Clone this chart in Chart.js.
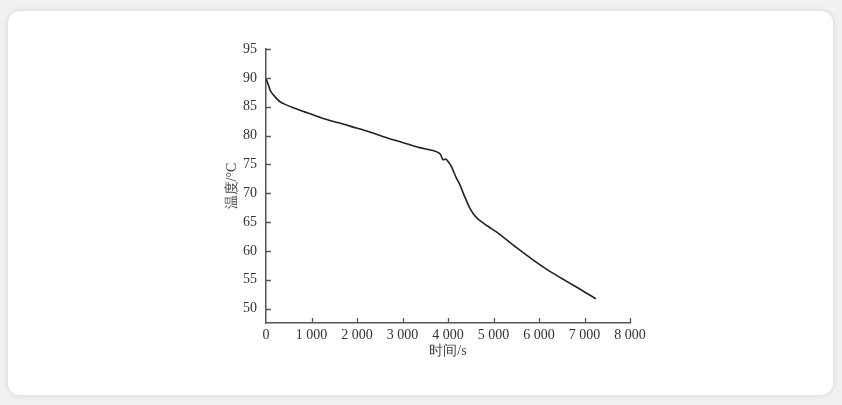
<!DOCTYPE html>
<html>
<head>
<meta charset="utf-8">
<script src="https://cdn.jsdelivr.net/npm/chart.js@4.4.0/dist/chart.umd.min.js"></script>
<style>
  html, body { margin: 0; padding: 0; background: #f1f1f1; width: 842px; height: 405px; overflow: hidden; }
  #card { position: absolute; left: 8px; top: 11px; width: 825px; height: 384px; background: #fff; border-radius: 12px; box-shadow: 0 0 6px rgba(0,0,0,0.12); overflow: hidden; }
  #c { display: block; }
</style>
</head>
<body>
<div id="card"><canvas id="c" width="825" height="384"></canvas></div>
<script>
// Data
const timeS = [0, 50, 100, 200, 300, 420, 600, 850, 1100, 1370, 1600, 1900, 2280, 2650, 3000, 3380, 3670, 3816, 3860, 3890, 3960, 4000, 4070, 4180, 4260, 4330, 4400, 4480, 4560, 4650, 4800, 4910, 5130, 5500, 5860, 6230, 6590, 6960, 7250];
const tempC = [89.9, 88.8, 87.7, 86.7, 85.9, 85.4, 84.8, 84.1, 83.4, 82.7, 82.2, 81.5, 80.6, 79.6, 78.8, 77.9, 77.4, 76.9, 76.3, 75.8, 75.9, 75.5, 74.7, 72.7, 71.5, 70.1, 68.8, 67.4, 66.4, 65.6, 64.7, 64.1, 62.9, 60.6, 58.5, 56.5, 54.8, 53.1, 51.7];
const xTicks = [0, 1000, 2000, 3000, 4000, 5000, 6000, 7000, 8000];
const yTicks = [50, 55, 60, 65, 70, 75, 80, 85, 90, 95];
const xTitle = '时间/s';
const yTitle = '温度/°C';

const points = timeS.map((t, i) => ({ x: t, y: tempC[i] }));
const fmt = v => String(v).replace(/\B(?=(\d{3})+(?!\d))/g, ' ');

const inwardTicks = {
  id: 'inwardTicks',
  afterDraw(chart) {
    const ctx = chart.ctx, xs = chart.scales.x, ys = chart.scales.y;
    const a = chart.chartArea;
    ctx.save();
    ctx.strokeStyle = '#555';
    ctx.lineWidth = 1.3;
    ctx.beginPath();
    yTicks.forEach(v => { const p = Math.round(ys.getPixelForValue(v)) + 0.5; ctx.moveTo(a.left, p); ctx.lineTo(a.left + 5, p); });
    xTicks.forEach(v => { if (v === 0) return; const p = Math.round(xs.getPixelForValue(v)) + 0.5; ctx.moveTo(p, a.bottom); ctx.lineTo(p, a.bottom - 5); });
    ctx.stroke();
    ctx.restore();
  }
};

const serif = "'Liberation Serif', 'Times New Roman', serif";

new Chart(document.getElementById('c'), {
  type: 'line',
  data: { datasets: [{ data: points, borderColor: '#222', borderWidth: 1.6, pointRadius: 0, tension: 0.25, fill: false }] },
  options: {
    responsive: false,
    animation: false,
    layout: { padding: { left: 216, right: 203, top: 38, bottom: 35 } },
    plugins: { legend: { display: false }, tooltip: { enabled: false } },
    scales: {
      x: {
        type: 'linear', min: 0, max: 8000,
        afterBuildTicks: s => { s.ticks = xTicks.map(v => ({ value: v })); },
        afterFit: s => { s.height = 37; },
        grid: { drawOnChartArea: false, drawTicks: false },
        border: { display: true, color: '#555', width: 1.5 },
        ticks: { padding: 4, color: '#333', font: { family: serif, size: 14 }, maxRotation: 0, autoSkip: false, callback: v => fmt(v) },
        title: { display: true, text: xTitle, color: '#444', padding: 0, font: { family: serif, size: 14 } }
      },
      y: {
        type: 'linear', min: 47.5, max: 95,
        afterBuildTicks: s => { s.ticks = yTicks.map(v => ({ value: v })); },
        afterFit: s => { s.width = 42; },
        grid: { drawOnChartArea: false, drawTicks: false },
        border: { display: true, color: '#555', width: 1.5 },
        ticks: { padding: 9, color: '#333', font: { family: serif, size: 14 }, autoSkip: false },
        title: { display: true, text: yTitle, color: '#444', padding: 0, font: { family: serif, size: 14 } }
      }
    }
  },
  plugins: [inwardTicks]
});
</script>
</body>
</html>
